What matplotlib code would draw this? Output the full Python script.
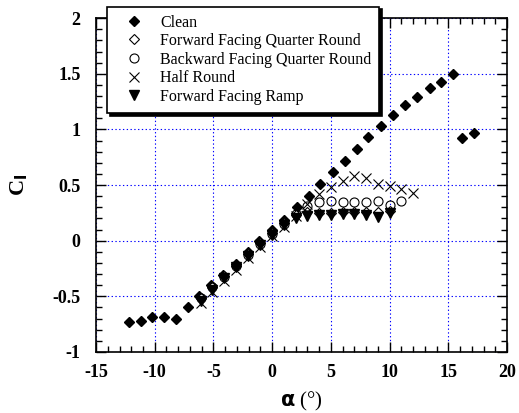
import matplotlib.pyplot as plt
from matplotlib.ticker import MultipleLocator

plt.rcParams['font.family'] = ['Liberation Serif', 'DejaVu Serif']

# angle of attack (deg) and lift coefficient
alpha_clean = [-12.2, -11.2, -10.2, -9.2, -8.2, -7.2, -6.2, -5.2, -4.2, -3.1,
               -2.1, -1.1, 0.0, 1.0, 2.1, 3.1, 4.1, 5.2, 6.2, 7.2,
               8.2, 9.3, 10.3, 11.3, 12.3, 13.4, 14.4, 15.4, 16.2, 17.2]
cl_clean = [-0.73, -0.72, -0.69, -0.69, -0.70, -0.60, -0.50, -0.40, -0.31, -0.21,
            -0.10, 0.00, 0.10, 0.19, 0.30, 0.40, 0.51, 0.62, 0.72, 0.82,
            0.93, 1.03, 1.13, 1.22, 1.29, 1.37, 1.43, 1.50, 0.92, 0.97]

alpha_ffqr = [-6.1, -5.1, -4.1, -3.1, -2.1, -1.0, 0.0, 1.0, 2.0, 3.0, 4.0,
              5.0, 6.0, 7.0, 8.0, 9.0, 10.0]
cl_ffqr = [-0.52, -0.42, -0.32, -0.23, -0.12, -0.02, 0.07, 0.16, 0.23, 0.26, 0.25,
           0.25, 0.26, 0.26, 0.26, 0.26, 0.27]

alpha_bfqr = [-6.1, -5.1, -4.1, -3.1, -2.1, -1.0, 0.0, 1.0, 2.0, 3.0, 4.0,
              5.0, 6.0, 7.0, 8.0, 9.0, 10.0, 11.0]
cl_bfqr = [-0.52, -0.42, -0.33, -0.23, -0.13, -0.03, 0.06, 0.15, 0.24, 0.31, 0.35,
           0.36, 0.35, 0.35, 0.35, 0.36, 0.32, 0.36]

alpha_hr = [-6.1, -5.1, -4.1, -3.1, -2.1, -1.0, 0.0, 1.0, 2.0, 3.0, 4.0,
            5.0, 6.0, 7.0, 8.0, 9.0, 10.0, 11.0, 12.0]
cl_hr = [-0.56, -0.46, -0.36, -0.26, -0.16, -0.06, 0.04, 0.12, 0.22, 0.33, 0.42,
         0.48, 0.54, 0.58, 0.56, 0.51, 0.49, 0.46, 0.43]

alpha_ramp = [-6.1, -5.1, -4.1, -3.1, -2.1, -1.0, 0.0, 1.0, 2.0, 3.0, 4.0,
              5.0, 6.0, 7.0, 8.0, 9.0, 10.0]
cl_ramp = [-0.54, -0.44, -0.34, -0.24, -0.14, -0.04, 0.05, 0.14, 0.20, 0.22, 0.23,
           0.23, 0.24, 0.24, 0.23, 0.21, 0.25]

fig = plt.figure(figsize=(5.19, 4.13), dpi=100)
ax = fig.add_axes([0.185, 0.148, 0.792, 0.808])

ax.plot(alpha_clean, cl_clean, 'D', color='black', ms=5.5, label='Clean')
ax.plot(alpha_ffqr, cl_ffqr, 'D', mfc='white', mec='black', ms=5.5, mew=0.8,
        label='Forward Facing Quarter Round')
ax.plot(alpha_bfqr, cl_bfqr, 'o', mfc='none', mec='black', ms=6.5, mew=0.8,
        label='Backward Facing Quarter Round')
ax.plot(alpha_hr, cl_hr, 'x', color='black', ms=7, mew=0.8, label='Half Round')
ax.plot(alpha_ramp, cl_ramp, 'v', color='black', ms=6.5, label='Forward Facing Ramp')

ax.set_xlim(-15, 20)
ax.set_ylim(-1, 2)
ax.xaxis.set_major_locator(MultipleLocator(5))
ax.xaxis.set_minor_locator(MultipleLocator(1))
ax.yaxis.set_major_locator(MultipleLocator(0.5))
ax.yaxis.set_minor_locator(MultipleLocator(0.1))
ax.set_xticks(range(-15, 25, 5), [str(v) for v in range(-15, 25, 5)])
ax.set_yticks([-1, -0.5, 0, 0.5, 1, 1.5, 2], ['-1', '-0.5', '0', '0.5', '1', '1.5', '2'])
ax.tick_params(which='both', direction='in', top=True, right=True, width=1)
ax.tick_params(which='major', length=7, labelsize=13)
ax.tick_params(axis='x', which='major', pad=9)
ax.tick_params(axis='y', which='major', pad=11)
ax.tick_params(which='minor', length=4)
for lab in ax.get_xticklabels() + ax.get_yticklabels():
    lab.set_fontweight('bold')
for sp in ax.spines.values():
    sp.set_linewidth(1.2)
ax.grid(True, which='major', color='blue', linestyle=(0, (1.2, 2.2)), linewidth=0.8)

ax.set_ylabel('C$_\\mathbf{l}$', fontsize=16, fontweight='bold', labelpad=16)
ax.set_xlabel(r'$\mathbf{\alpha}$ (°)', fontsize=15, labelpad=6)

leg = ax.legend(loc='upper left', bbox_to_anchor=(0.012, 1.054), fancybox=False,
                shadow={'color': 'black', 'alpha': 1}, fontsize=11.5,
                handletextpad=0.5, borderpad=0.5, labelspacing=0.16,
                handlelength=2.3, borderaxespad=0.4, framealpha=1, edgecolor='black')
leg.get_frame().set_linewidth(1.2)

fig.savefig('out.png', dpi=100)
